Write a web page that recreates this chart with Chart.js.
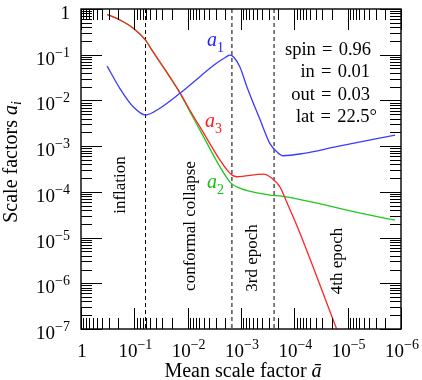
<!DOCTYPE html>
<html><head><meta charset="utf-8">
<script src="https://cdn.jsdelivr.net/npm/chart.js"></script>
<style>html,body{margin:0;padding:0;background:#fff}</style>
</head><body>
<canvas id="c" width="422" height="380"></canvas>
<script>
// values, as log10 exponents
const a1LogX = [-0.49,-0.73,-0.98,-1.21,-1.48,-1.86,-2.23,-2.50,-2.72,-2.79,-2.87,-2.98,-3.11,-3.36,-3.54,-3.67,-3.79,-4.17,-4.79,-5.89];
const a1LogY = [-1.25,-1.74,-2.14,-2.32,-2.17,-1.84,-1.48,-1.22,-1.05,-1.01,-1.06,-1.27,-1.70,-2.43,-2.94,-3.12,-3.21,-3.16,-3.01,-2.76];
const a3LogX = [-0.49,-0.73,-0.98,-1.21,-1.33,-1.48,-1.86,-2.04,-2.23,-2.79,-2.92,-3.42,-3.58,-3.73,-3.84,-4.07,-4.79];
const a3LogY = [-0.12,-0.24,-0.42,-0.68,-0.90,-1.16,-1.84,-2.21,-2.58,-3.59,-3.67,-3.61,-3.70,-3.89,-4.18,-4.80,-6.99];
const a2LogX = [-0.49,-0.73,-0.98,-1.21,-1.33,-1.48,-1.86,-2.04,-2.23,-2.79,-2.92,-3.54,-3.73,-5.42,-5.89];
const a2LogY = [-0.12,-0.24,-0.42,-0.68,-0.90,-1.16,-1.85,-2.24,-2.65,-3.78,-3.89,-4.07,-4.09,-4.51,-4.62];
const epochLogX = [-1.21,-2.83,-3.62];
const xTickExps = [0,-1,-2,-3,-4,-5,-6];
const yTickExps = [0,-1,-2,-3,-4,-5,-6,-7];
const paramLines = ['spin\u2004=\u20040.96','in\u2004=\u20040.01','out\u2004=\u20040.03','lat\u2004=\u200422.5°'];
const regionLabels = ['inflation','conformal collapse','3rd epoch','4th epoch'];

const pts = (lx, ly) => lx.map((v,i)=>({x:Math.pow(10,v), y:Math.pow(10,ly[i])}));
const SERIF = '"Liberation Serif","DejaVu Serif",serif';

const lineDs = (data, color, order) => ({data, borderColor:color, borderWidth:1.3, pointRadius:0,
  showLine:true, fill:false, cubicInterpolationMode:'monotone', order});
const datasets = [
  lineDs(pts(a3LogX,a3LogY), '#ff2424', 1),
  lineDs(pts(a2LogX,a2LogY), '#1ec81e', 2),
  lineDs(pts(a1LogX,a1LogY), '#3a3aff', 0),
];
epochLogX.forEach(e=>{
  datasets.push({data:[{x:Math.pow(10,e),y:1},{x:Math.pow(10,e),y:1e-7}], borderColor:'#000', borderWidth:1,
    borderDash:[4,3], pointRadius:0, showLine:true, fill:false, order:5});
});

function drawPow(ctx, e, x, y, align){
  if(e===0){
    ctx.font = '19px '+SERIF; ctx.textAlign = align; ctx.textBaseline='alphabetic';
    ctx.fillText('1', x, y); return;
  }
  ctx.font = '19px '+SERIF; const w1 = ctx.measureText('10').width;
  ctx.font = '14px '+SERIF; const ex = '\u2212'+(-e); const w2 = ctx.measureText(ex).width;
  const tw = w1+w2;
  let left = align==='center' ? x - tw/2 : (align==='right' ? x - tw : x);
  ctx.textAlign='left'; ctx.textBaseline='alphabetic';
  ctx.font = '19px '+SERIF; ctx.fillText('10', left, y);
  ctx.font = '14px '+SERIF; ctx.fillText(ex, left+w1, y-8);
}

function drawSub(ctx, main, sub, x, y, color){
  ctx.fillStyle = color; ctx.textAlign='left'; ctx.textBaseline='alphabetic';
  ctx.font = 'italic 20px '+SERIF; ctx.fillText(main, x, y);
  const w = ctx.measureText(main).width;
  ctx.font = '14px '+SERIF; ctx.fillText(sub, x+w, y+6);
}

const deco = {
  id:'deco',
  afterDraw(chart){
    const ctx = chart.ctx, xs = chart.scales.x, ys = chart.scales.y, ca = chart.chartArea;
    ctx.save();
    ctx.strokeStyle='#000'; ctx.fillStyle='#000';
    ctx.lineWidth = 1;
    ctx.beginPath();
    const vtick = (v, len) => { const p = Math.round(xs.getPixelForValue(v))+0.5;
      ctx.moveTo(p, ca.bottom); ctx.lineTo(p, ca.bottom-len); ctx.moveTo(p, ca.top); ctx.lineTo(p, ca.top+len); };
    const htick = (v, len) => { const p = Math.round(ys.getPixelForValue(v))+0.5;
      ctx.moveTo(ca.left, p); ctx.lineTo(ca.left+len, p); ctx.moveTo(ca.right, p); ctx.lineTo(ca.right-len, p); };
    xTickExps.forEach(e=>{ vtick(Math.pow(10,e), 21);
      if(e<0) for(let m=2;m<=9;m++) vtick(m*Math.pow(10,e), 11); });
    yTickExps.forEach(e=>{ htick(Math.pow(10,e), 21);
      if(e<0) for(let m=2;m<=9;m++) htick(m*Math.pow(10,e), 11); });
    ctx.stroke();
    ctx.lineWidth = 1.4;
    ctx.strokeRect(ca.left, ca.top, ca.right-ca.left, ca.bottom-ca.top);
    xTickExps.forEach(e=>{ drawPow(ctx, e, xs.getPixelForValue(Math.pow(10,e))+1, ca.bottom+28, 'center'); });
    yTickExps.forEach(e=>{ drawPow(ctx, e, 70, ys.getPixelForValue(Math.pow(10,e))+10, 'right'); });
    ctx.font = '20px '+SERIF; const t1 = 'Mean scale factor ';
    const w1 = ctx.measureText(t1).width;
    ctx.font = 'italic 20px '+SERIF; const w2 = ctx.measureText('\u0101').width;
    let lx = 243 - (w1+w2)/2;
    ctx.textAlign='left'; ctx.textBaseline='alphabetic';
    ctx.font = '20px '+SERIF; ctx.fillText(t1, lx, 377);
    ctx.font = 'italic 20px '+SERIF; ctx.fillText('\u0101', lx+w1, 377);
    ctx.save();
    ctx.translate(17, 162); ctx.rotate(-Math.PI/2);
    ctx.font = '20px '+SERIF; const s1 = 'Scale factors '; const sw1 = ctx.measureText(s1).width;
    ctx.font = 'italic 20px '+SERIF; const sw2 = ctx.measureText('a').width;
    ctx.font = 'italic 14px '+SERIF; const sw3 = ctx.measureText('i').width;
    let sx = -(sw1+sw2+sw3)/2;
    ctx.font = '20px '+SERIF; ctx.fillText(s1, sx, 0);
    ctx.font = 'italic 20px '+SERIF; ctx.fillText('a', sx+sw1, 0);
    ctx.font = 'italic 14px '+SERIF; ctx.fillText('i', sx+sw1+sw2, 4);
    ctx.restore();
    ctx.font = '18.5px '+SERIF; ctx.textAlign='right';
    const px = [371,370,370,377], py = [55,77,100,122];
    paramLines.forEach((t,i)=> ctx.fillText(t, px[i], py[i]));
    const rx = [125,195,257,342], ry = [185,226,258,261];
    ctx.font = '17px '+SERIF;
    regionLabels.forEach((t,i)=>{
      ctx.save(); ctx.translate(rx[i], ry[i]); ctx.rotate(-Math.PI/2);
      ctx.textAlign='center'; ctx.textBaseline='alphabetic'; ctx.fillText(t,0,0); ctx.restore();
    });
    drawSub(ctx, 'a', '1', 207, 46, '#2424ff');
    drawSub(ctx, 'a', '3', 205, 127, '#ff1c1c');
    drawSub(ctx, 'a', '2', 207, 188, '#14c014');
    ctx.restore();
  }
};

new Chart(document.getElementById('c'), {
  type:'scatter',
  data:{datasets},
  options:{
    responsive:false, animation:false, devicePixelRatio:1,
    layout:{padding:{left:81,right:21,top:9,bottom:51}},
    plugins:{legend:{display:false}, tooltip:{enabled:false}},
    scales:{
      x:{type:'logarithmic', reverse:true, min:1e-6, max:1, display:false},
      y:{type:'logarithmic', min:1e-7, max:1, display:false}
    }
  },
  plugins:[deco]
});
</script>
</body></html>
